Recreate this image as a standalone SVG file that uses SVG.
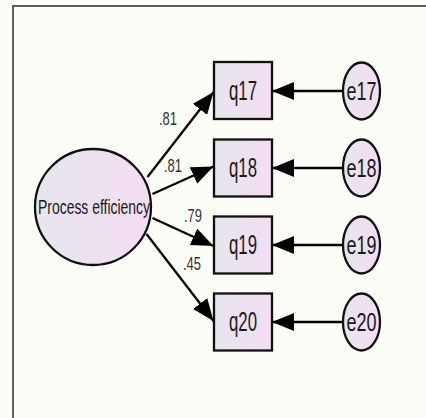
<svg xmlns="http://www.w3.org/2000/svg" width="426" height="418" viewBox="0 0 426 418">
  <defs>
    <linearGradient id="fillg" x1="0" y1="0" x2="1" y2="0">
      <stop offset="0" stop-color="#e6e6ec"/>
      <stop offset="1" stop-color="#f4ddf2"/>
    </linearGradient>
    <marker id="arr" viewBox="0 -9 22 18" refX="22" refY="0" markerWidth="22" markerHeight="18" markerUnits="userSpaceOnUse" orient="auto">
      <path d="M0,-9 L22,0 L0,9 z" fill="#000"/>
    </marker>
    <style>
      .obs { fill: url(#fillg); stroke: #111; stroke-width: 2.3; }
      .lat { fill: url(#fillg); stroke: #111; stroke-width: 2.3; }
      .edge { stroke: #000; stroke-width: 2.3; fill: none; marker-end: url(#arr); }
      text { font-family: "Liberation Sans", Arial, sans-serif; fill: #1a1a1a; }
      .big { font-size: 27px; text-anchor: middle; }
      .err { font-size: 26px; text-anchor: middle; }
      .lbl { font-size: 19px; fill: #333; }
    </style>
  </defs>
  <rect x="0" y="0" width="426" height="418" fill="#fdfdf7"/>
  <path d="M13,418 V6 H426" fill="none" stroke="#5e5e5e" stroke-width="2"/>

  <g id="connectors">
    <line class="edge" x1="147.5" y1="177" x2="213.5" y2="92"/>
    <line class="edge" x1="152.5" y1="194" x2="213.5" y2="166.5"/>
    <line class="edge" x1="152.5" y1="218" x2="213.5" y2="246"/>
    <line class="edge" x1="146.5" y1="234" x2="213.5" y2="321"/>
    <line class="edge" x1="343" y1="91" x2="272" y2="91"/>
    <line class="edge" x1="343" y1="168" x2="272" y2="168"/>
    <line class="edge" x1="343" y1="245" x2="272" y2="245"/>
    <line class="edge" x1="343" y1="322" x2="272" y2="322"/>
    <text class="lbl" x="159" y="125" textLength="18" lengthAdjust="spacingAndGlyphs">.81</text>
    <text class="lbl" x="164" y="172" textLength="18" lengthAdjust="spacingAndGlyphs">.81</text>
    <text class="lbl" x="184" y="222" textLength="18" lengthAdjust="spacingAndGlyphs">.79</text>
    <text class="lbl" x="183" y="270" textLength="18" lengthAdjust="spacingAndGlyphs">.45</text>
  </g>

  <g id="process-efficiency">
    <ellipse class="lat" cx="93" cy="207" rx="58" ry="58"/>
    <text x="94" y="214" font-size="20" text-anchor="middle" textLength="112" lengthAdjust="spacingAndGlyphs">Process efficiency</text>
  </g>

  <g id="q17">
    <rect class="obs" x="214" y="62" width="58" height="57"/>
    <text class="big" x="243" y="100" textLength="28" lengthAdjust="spacingAndGlyphs">q17</text>
  </g>
  <g id="q18">
    <rect class="obs" x="214" y="139.5" width="58" height="57"/>
    <text class="big" x="243" y="177" textLength="28" lengthAdjust="spacingAndGlyphs">q18</text>
  </g>
  <g id="q19">
    <rect class="obs" x="214" y="216.5" width="58" height="57"/>
    <text class="big" x="243" y="254" textLength="28" lengthAdjust="spacingAndGlyphs">q19</text>
  </g>
  <g id="q20">
    <rect class="obs" x="214" y="293.5" width="58" height="57"/>
    <text class="big" x="243" y="331" textLength="28" lengthAdjust="spacingAndGlyphs">q20</text>
  </g>

  <g id="e17">
    <ellipse class="lat" cx="361.5" cy="91" rx="18.5" ry="28.5"/>
    <text class="err" x="361.5" y="100" textLength="30" lengthAdjust="spacingAndGlyphs">e17</text>
  </g>
  <g id="e18">
    <ellipse class="lat" cx="361.5" cy="168" rx="18.5" ry="28.5"/>
    <text class="err" x="361.5" y="177" textLength="30" lengthAdjust="spacingAndGlyphs">e18</text>
  </g>
  <g id="e19">
    <ellipse class="lat" cx="361.5" cy="245" rx="18.5" ry="28.5"/>
    <text class="err" x="361.5" y="254" textLength="30" lengthAdjust="spacingAndGlyphs">e19</text>
  </g>
  <g id="e20">
    <ellipse class="lat" cx="361.5" cy="322" rx="18.5" ry="28.5"/>
    <text class="err" x="361.5" y="331" textLength="30" lengthAdjust="spacingAndGlyphs">e20</text>
  </g>
</svg>
